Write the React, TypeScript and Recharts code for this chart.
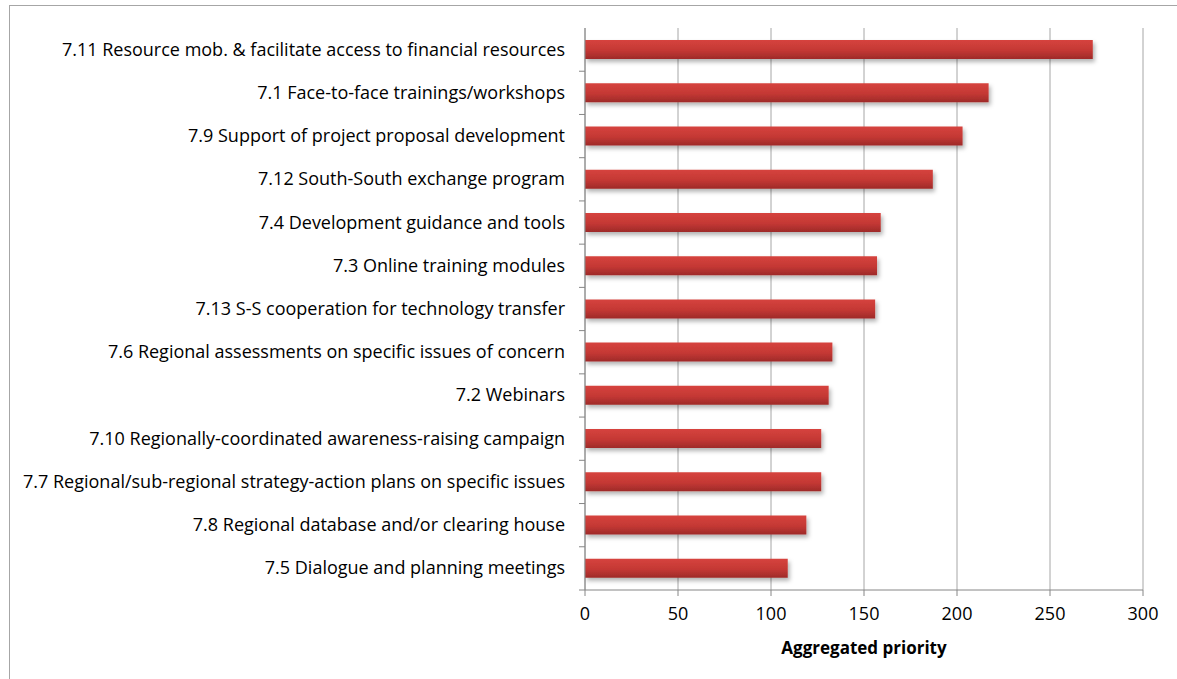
import { BarChart, Bar, XAxis, YAxis, CartesianGrid } from "recharts";

const categories = [
  "7.11 Resource mob. & facilitate access to financial resources",
  "7.1 Face-to-face trainings/workshops",
  "7.9 Support of project proposal development",
  "7.12 South-South exchange program",
  "7.4 Development guidance and tools",
  "7.3 Online training modules",
  "7.13 S-S cooperation for technology transfer",
  "7.6 Regional assessments on specific issues of concern",
  "7.2 Webinars",
  "7.10 Regionally-coordinated awareness-raising campaign",
  "7.7 Regional/sub-regional strategy-action plans on specific issues",
  "7.8 Regional database and/or clearing house",
  "7.5 Dialogue and planning meetings",
];

const priority = [273, 217, 203, 187, 159, 157, 156, 133, 131, 127, 127, 119, 109];

const xTicks = [0, 50, 100, 150, 200, 250, 300];

const data = categories.map((name, i) => ({ name, value: priority[i] }));

const W = 1177;
const H = 679;
const TOP = 28;
const AXIS_Y = 590;
const X_AXIS_H = 62;
const AXIS_X = 585;
const FONT = "'Open Sans', Lato, sans-serif";
const band = (AXIS_Y - TOP) / categories.length;

const CategoryTick = (props: any) => {
  const { y, payload } = props;
  return (
    <g>
      <text x={AXIS_X - 20} y={y} dy={6} textAnchor="end" fontSize={18} fill="#000" fontFamily={FONT}>
        {payload.value}
      </text>
      <line x1={AXIS_X - 6} x2={AXIS_X} y1={y + band / 2} y2={y + band / 2} stroke="#868686" />
    </g>
  );
};

export default function App() {
  return (
    <div style={{ position: "fixed", left: 0, top: 0, width: W, height: H, background: "#fff", overflow: "hidden" }}>
      <div
        style={{
          position: "absolute",
          left: 9,
          top: 5,
          width: W + 20,
          height: H + 20,
          border: "1px solid #a6a6a6",
          boxSizing: "border-box",
        }}
      />
      <BarChart
        width={W}
        height={H}
        data={data}
        layout="vertical"
        margin={{ top: TOP, right: W - 1143, bottom: H - AXIS_Y - X_AXIS_H, left: 0 }}
      >
        <defs>
          <linearGradient id="barRed" x1="0" y1="0" x2="0" y2="1">
            <stop offset="0%" stopColor="#d6433e" />
            <stop offset="55%" stopColor="#c43834" />
            <stop offset="100%" stopColor="#9e2a29" />
          </linearGradient>
          <filter id="barShadow" x="-5%" y="-30%" width="115%" height="180%">
            <feDropShadow dx="2" dy="3" stdDeviation="2" floodColor="#000" floodOpacity="0.3" />
          </filter>
        </defs>
        <CartesianGrid horizontal={false} stroke="#a6a6a6" />
        <XAxis
          type="number"
          domain={[0, 300]}
          ticks={xTicks}
          interval={0}
          height={X_AXIS_H}
          axisLine={{ stroke: "#868686" }}
          tickLine={{ stroke: "#868686" }}
          tickSize={6}
          tick={{ fill: "#000", fontSize: 18, fontFamily: FONT }}
          tickMargin={11}
          label={{
            value: "Aggregated priority",
            position: "insideBottom",
            offset: -2,
            fill: "#000",
            fontSize: 17,
            fontWeight: "bold",
            fontFamily: FONT,
          }}
        />
        <YAxis
          type="category"
          dataKey="name"
          width={AXIS_X}
          axisLine={{ stroke: "#868686" }}
          tickLine={false}
          tick={<CategoryTick />}
          interval={0}
        />
        <Bar
          dataKey="value"
          fill="url(#barRed)"
          barSize={19}
          filter="url(#barShadow)"
          isAnimationActive={false}
        />
      </BarChart>
    </div>
  );
}
